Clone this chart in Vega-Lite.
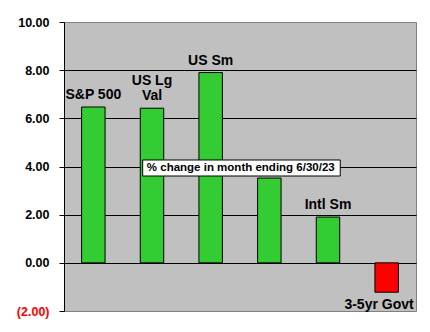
{
  "$schema": "https://vega.github.io/schema/vega-lite/v6.json",
  "width": 352,
  "height": 289,
  "autosize": {"type": "none"},
  "padding": {"left": 64, "top": 22, "right": 14, "bottom": 21},
  "background": "white",
  "config": {
    "view": {"fill": "#C0C0C0", "stroke": "#808080", "strokeWidth": 1},
    "text": {"font": "Liberation Sans", "fontWeight": "bold"}
  },
  "datasets": {
    "bars": [
      {"name": "S&P 500", "label": "S&P 500", "label2": "", "value": 6.47},
      {"name": "US Lg Val", "label": "Val", "label2": "US Lg", "value": 6.42},
      {"name": "US Sm", "label": "US Sm", "label2": "", "value": 7.9},
      {"name": "Intl Lg", "label": "", "label2": "", "value": 3.52},
      {"name": "Intl Sm", "label": "Intl Sm", "label2": "", "value": 1.9},
      {"name": "3-5yr Govt", "label": "3-5yr Govt", "label2": "", "value": -1.22}
    ],
    "note": [{"text": "% change in month ending 6/30/23"}]
  },
  "resolve": {"scale": {"x": "independent"}},
  "layer": [
    {
      "data": {"name": "bars"},
      "mark": {"type": "bar", "stroke": "black", "strokeWidth": 1},
      "encoding": {
        "x": {"field": "name", "type": "nominal", "sort": null, "axis": null,
              "scale": {"paddingInner": 0.6, "paddingOuter": 0.3}},
        "y": {"field": "value", "type": "quantitative",
              "scale": {"domain": [-2, 10], "nice": false, "zero": false},
              "axis": {
                "title": null,
                "values": [-2, 0, 2, 4, 6, 8, 10],
                "labelExpr": "datum.value < 0 ? '(' + format(-datum.value, '.2f') + ')' : format(datum.value, '.2f')",
                "labelFont": "Liberation Sans",
                "labelFontWeight": "bold",
                "labelFontSize": 12.5,
                "labelColor": {"condition": {"test": "datum.value < 0", "value": "#FF0000"}, "value": "black"},
                "labelPadding": 10,
                "tickSize": 5,
                "tickColor": "black",
                "domainColor": "black",
                "grid": true,
                "gridColor": "black",
                "gridOpacity": {"condition": {"test": "datum.value >= 10 || datum.value <= -2", "value": 0}, "value": 1},
                "gridWidth": 1
              }},
        "color": {"condition": {"test": "datum.value < 0", "value": "#FF0000"}, "value": "#33CC33"}
      }
    },
    {
      "data": {"name": "bars"},
      "transform": [{"filter": "datum.value >= 0"}],
      "layer": [
        {
          "mark": {"type": "text", "baseline": "alphabetic", "align": "center", "dy": -8, "fontSize": 14, "color": "black"},
          "encoding": {
            "x": {"field": "name", "type": "nominal", "axis": null,
                  "scale": {"domain": ["S&P 500", "US Lg Val", "US Sm", "Intl Lg", "Intl Sm", "3-5yr Govt"], "paddingInner": 0.6, "paddingOuter": 0.3}},
            "y": {"field": "value", "type": "quantitative"},
            "text": {"field": "label"}
          }
        },
        {
          "mark": {"type": "text", "baseline": "alphabetic", "align": "center", "dy": -23, "fontSize": 14, "color": "black"},
          "encoding": {
            "x": {"field": "name", "type": "nominal", "axis": null,
                  "scale": {"domain": ["S&P 500", "US Lg Val", "US Sm", "Intl Lg", "Intl Sm", "3-5yr Govt"], "paddingInner": 0.6, "paddingOuter": 0.3}},
            "y": {"field": "value", "type": "quantitative"},
            "text": {"field": "label2"}
          }
        }
      ]
    },
    {
      "data": {"name": "bars"},
      "transform": [{"filter": "datum.value < 0"}],
      "mark": {"type": "text", "baseline": "alphabetic", "align": "right", "dx": 27, "dy": 17, "fontSize": 14, "color": "black"},
      "encoding": {
        "x": {"field": "name", "type": "nominal", "axis": null,
              "scale": {"domain": ["S&P 500", "US Lg Val", "US Sm", "Intl Lg", "Intl Sm", "3-5yr Govt"], "paddingInner": 0.6, "paddingOuter": 0.3}},
        "y": {"field": "value", "type": "quantitative"},
        "text": {"field": "label"}
      }
    },
    {
      "data": {"name": "note"},
      "layer": [
        {
          "mark": {"type": "rect", "fill": "white", "stroke": "black", "strokeWidth": 1},
          "encoding": {
            "x": {"datum": 1.341, "type": "quantitative", "axis": null, "scale": {"domain": [0, 6], "nice": false, "zero": false}},
            "x2": {"datum": 4.709},
            "y": {"datum": 4.27, "type": "quantitative"},
            "y2": {"datum": 3.605}
          }
        },
        {
          "mark": {"type": "text", "baseline": "middle", "align": "center", "fontSize": 11.5, "color": "black"},
          "encoding": {
            "x": {"datum": 3.013, "type": "quantitative", "axis": null, "scale": {"domain": [0, 6], "nice": false, "zero": false}},
            "y": {"datum": 3.94, "type": "quantitative"},
            "text": {"field": "text"}
          }
        }
      ]
    }
  ]
}
